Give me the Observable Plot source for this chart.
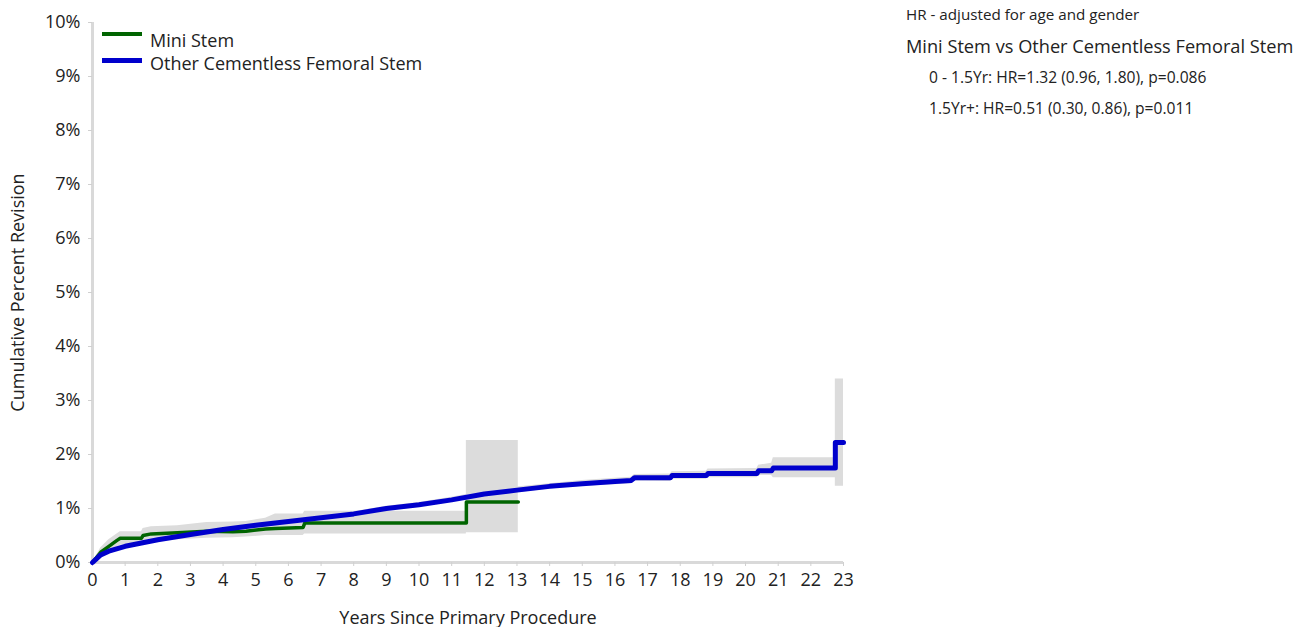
<!DOCTYPE html>
<html>
<head>
<meta charset="utf-8">
<script src="https://cdn.jsdelivr.net/npm/d3@7"></script>
<script src="https://cdn.jsdelivr.net/npm/@observablehq/plot@0.6"></script>
<style>
  html, body { margin: 0; padding: 0; background: #fff; }
  #wrap { position: relative; width: 1303px; height: 627px; font-family: "Open Sans", "Noto Sans", sans-serif; color: #222; }
  .t { position: absolute; white-space: nowrap; line-height: 1; }
  .sw { position: absolute; height: 4px; }
</style>
</head>
<body>
<div id="wrap">
  <div class="sw" style="left:102px; top:32px; width:40px; background:#006400;"></div>
  <div class="t" style="left:150px; top:31px; font-size:18px;">Mini Stem</div>
  <div class="sw" style="left:102px; top:58px; width:40px; height:5px; background:#0000cc;"></div>
  <div class="t" style="left:150px; top:54px; font-size:18px;">Other Cementless Femoral Stem</div>

  <div class="t" style="left:906px; top:7px; font-size:15.2px;">HR - adjusted for age and gender</div>
  <div class="t" style="left:906px; top:37px; font-size:18.2px;">Mini Stem vs Other Cementless Femoral Stem</div>
  <div class="t" style="left:929px; top:70px; font-size:15.6px;">0 - 1.5Yr: HR=1.32 (0.96, 1.80), p=0.086</div>
  <div class="t" style="left:929px; top:101px; font-size:15.6px;">1.5Yr+: HR=0.51 (0.30, 0.86), p=0.011</div>
</div>
<script>
// Mini Stem (Kaplan-Meier estimate, % revised, with 95% CI)
const miniT  = [0, 0.25, 0.5, 0.75, 0.85, 1.5, 1.55, 1.8, 2.6, 3.5, 4.3, 4.7, 5.3, 5.6, 6.45, 6.5, 11.45, 11.45, 13.04];
const miniEst= [0, 0.19, 0.30, 0.41, 0.45, 0.45, 0.50, 0.53, 0.55, 0.58, 0.57, 0.58, 0.62, 0.63, 0.65, 0.73, 0.73, 1.12, 1.12];
const miniLo = [0, 0.10, 0.18, 0.28, 0.32, 0.33, 0.37, 0.40, 0.42, 0.45, 0.46, 0.47, 0.50, 0.50, 0.50, 0.53, 0.53, 0.55, 0.55];
const miniHi = [0, 0.27, 0.42, 0.53, 0.57, 0.57, 0.63, 0.66, 0.68, 0.74, 0.75, 0.76, 0.82, 0.90, 0.90, 0.95, 0.95, 2.26, 2.26];

// Other Cementless Femoral Stem
const otherT  = [0, 0.25, 0.5, 1, 1.5, 2, 3, 4, 5, 6, 7, 8, 9, 10, 11, 12, 13, 14, 15, 16, 16.5, 16.6, 17.7, 17.75, 18.8, 18.85, 20.35, 20.4, 20.8, 20.85, 22.75, 22.75, 23];
const otherEst= [0, 0.14, 0.21, 0.30, 0.36, 0.42, 0.52, 0.61, 0.69, 0.76, 0.83, 0.90, 1.00, 1.07, 1.16, 1.27, 1.34, 1.41, 1.46, 1.50, 1.52, 1.57, 1.57, 1.61, 1.61, 1.65, 1.65, 1.70, 1.70, 1.75, 1.75, 2.22, 2.22];
const otherLo = [0, 0.12, 0.18, 0.27, 0.33, 0.39, 0.48, 0.57, 0.65, 0.72, 0.79, 0.86, 0.96, 1.03, 1.12, 1.22, 1.29, 1.36, 1.41, 1.44, 1.46, 1.51, 1.50, 1.54, 1.54, 1.57, 1.57, 1.61, 1.61, 1.57, 1.57, 1.41, 1.41];
const otherHi = [0, 0.17, 0.24, 0.33, 0.40, 0.46, 0.56, 0.65, 0.73, 0.80, 0.87, 0.94, 1.04, 1.11, 1.21, 1.32, 1.40, 1.46, 1.52, 1.56, 1.58, 1.63, 1.64, 1.68, 1.69, 1.73, 1.74, 1.80, 1.84, 1.94, 1.94, 3.40, 3.40];

const xTicks = d3.range(0, 24);
const yTicks = d3.range(0, 11);

const mini = miniT.map((t, i) => ({t, est: miniEst[i], lo: miniLo[i], hi: miniHi[i]}));
const other = otherT.map((t, i) => ({t, est: otherEst[i], lo: otherLo[i], hi: otherHi[i]}));

const chart = Plot.plot({
  width: 1303,
  height: 627,
  marginLeft: 92,
  marginRight: 460,
  marginTop: 22,
  marginBottom: 65,
  style: {fontFamily: "'Open Sans', 'Noto Sans', sans-serif", fontSize: "18px", color: "#222", background: "transparent"},
  x: {domain: [0, 23]},
  y: {domain: [0, 10]},
  marks: [
    Plot.areaY(other, {x: "t", y1: "lo", y2: "hi", fill: "#dcdcdc", curve: "linear"}),
    Plot.areaY(mini, {x: "t", y1: "lo", y2: "hi", fill: "#dcdcdc", curve: "linear"}),
    Plot.ruleX([0], {stroke: "#d9d9d9", strokeWidth: 3}),
    Plot.ruleY([0], {stroke: "#d9d9d9", strokeWidth: 3}),
    Plot.axisX({ticks: xTicks, tickSize: 4, tickPadding: 7, stroke: "#d0d0d0", fill: "#222", fontSize: 18,
      label: "Years Since Primary Procedure", labelAnchor: "center", labelArrow: "none", labelOffset: 61}),
    Plot.axisY({ticks: yTicks, tickSize: 4, tickPadding: 8, stroke: "#d0d0d0", fill: "#222", fontSize: 18,
      tickFormat: d => d + "%",
      label: "Cumulative Percent Revision", labelAnchor: "center", labelArrow: "none", labelOffset: 81}),
    Plot.line(mini, {x: "t", y: "est", stroke: "#006400", strokeWidth: 3.5, curve: "linear"}),
    Plot.line(other, {x: "t", y: "est", stroke: "#0000cc", strokeWidth: 5, curve: "linear"})
  ]
});
chart.style.position = "absolute";
chart.style.left = "0px";
chart.style.top = "0px";
document.getElementById("wrap").prepend(chart);
</script>
</body>
</html>
